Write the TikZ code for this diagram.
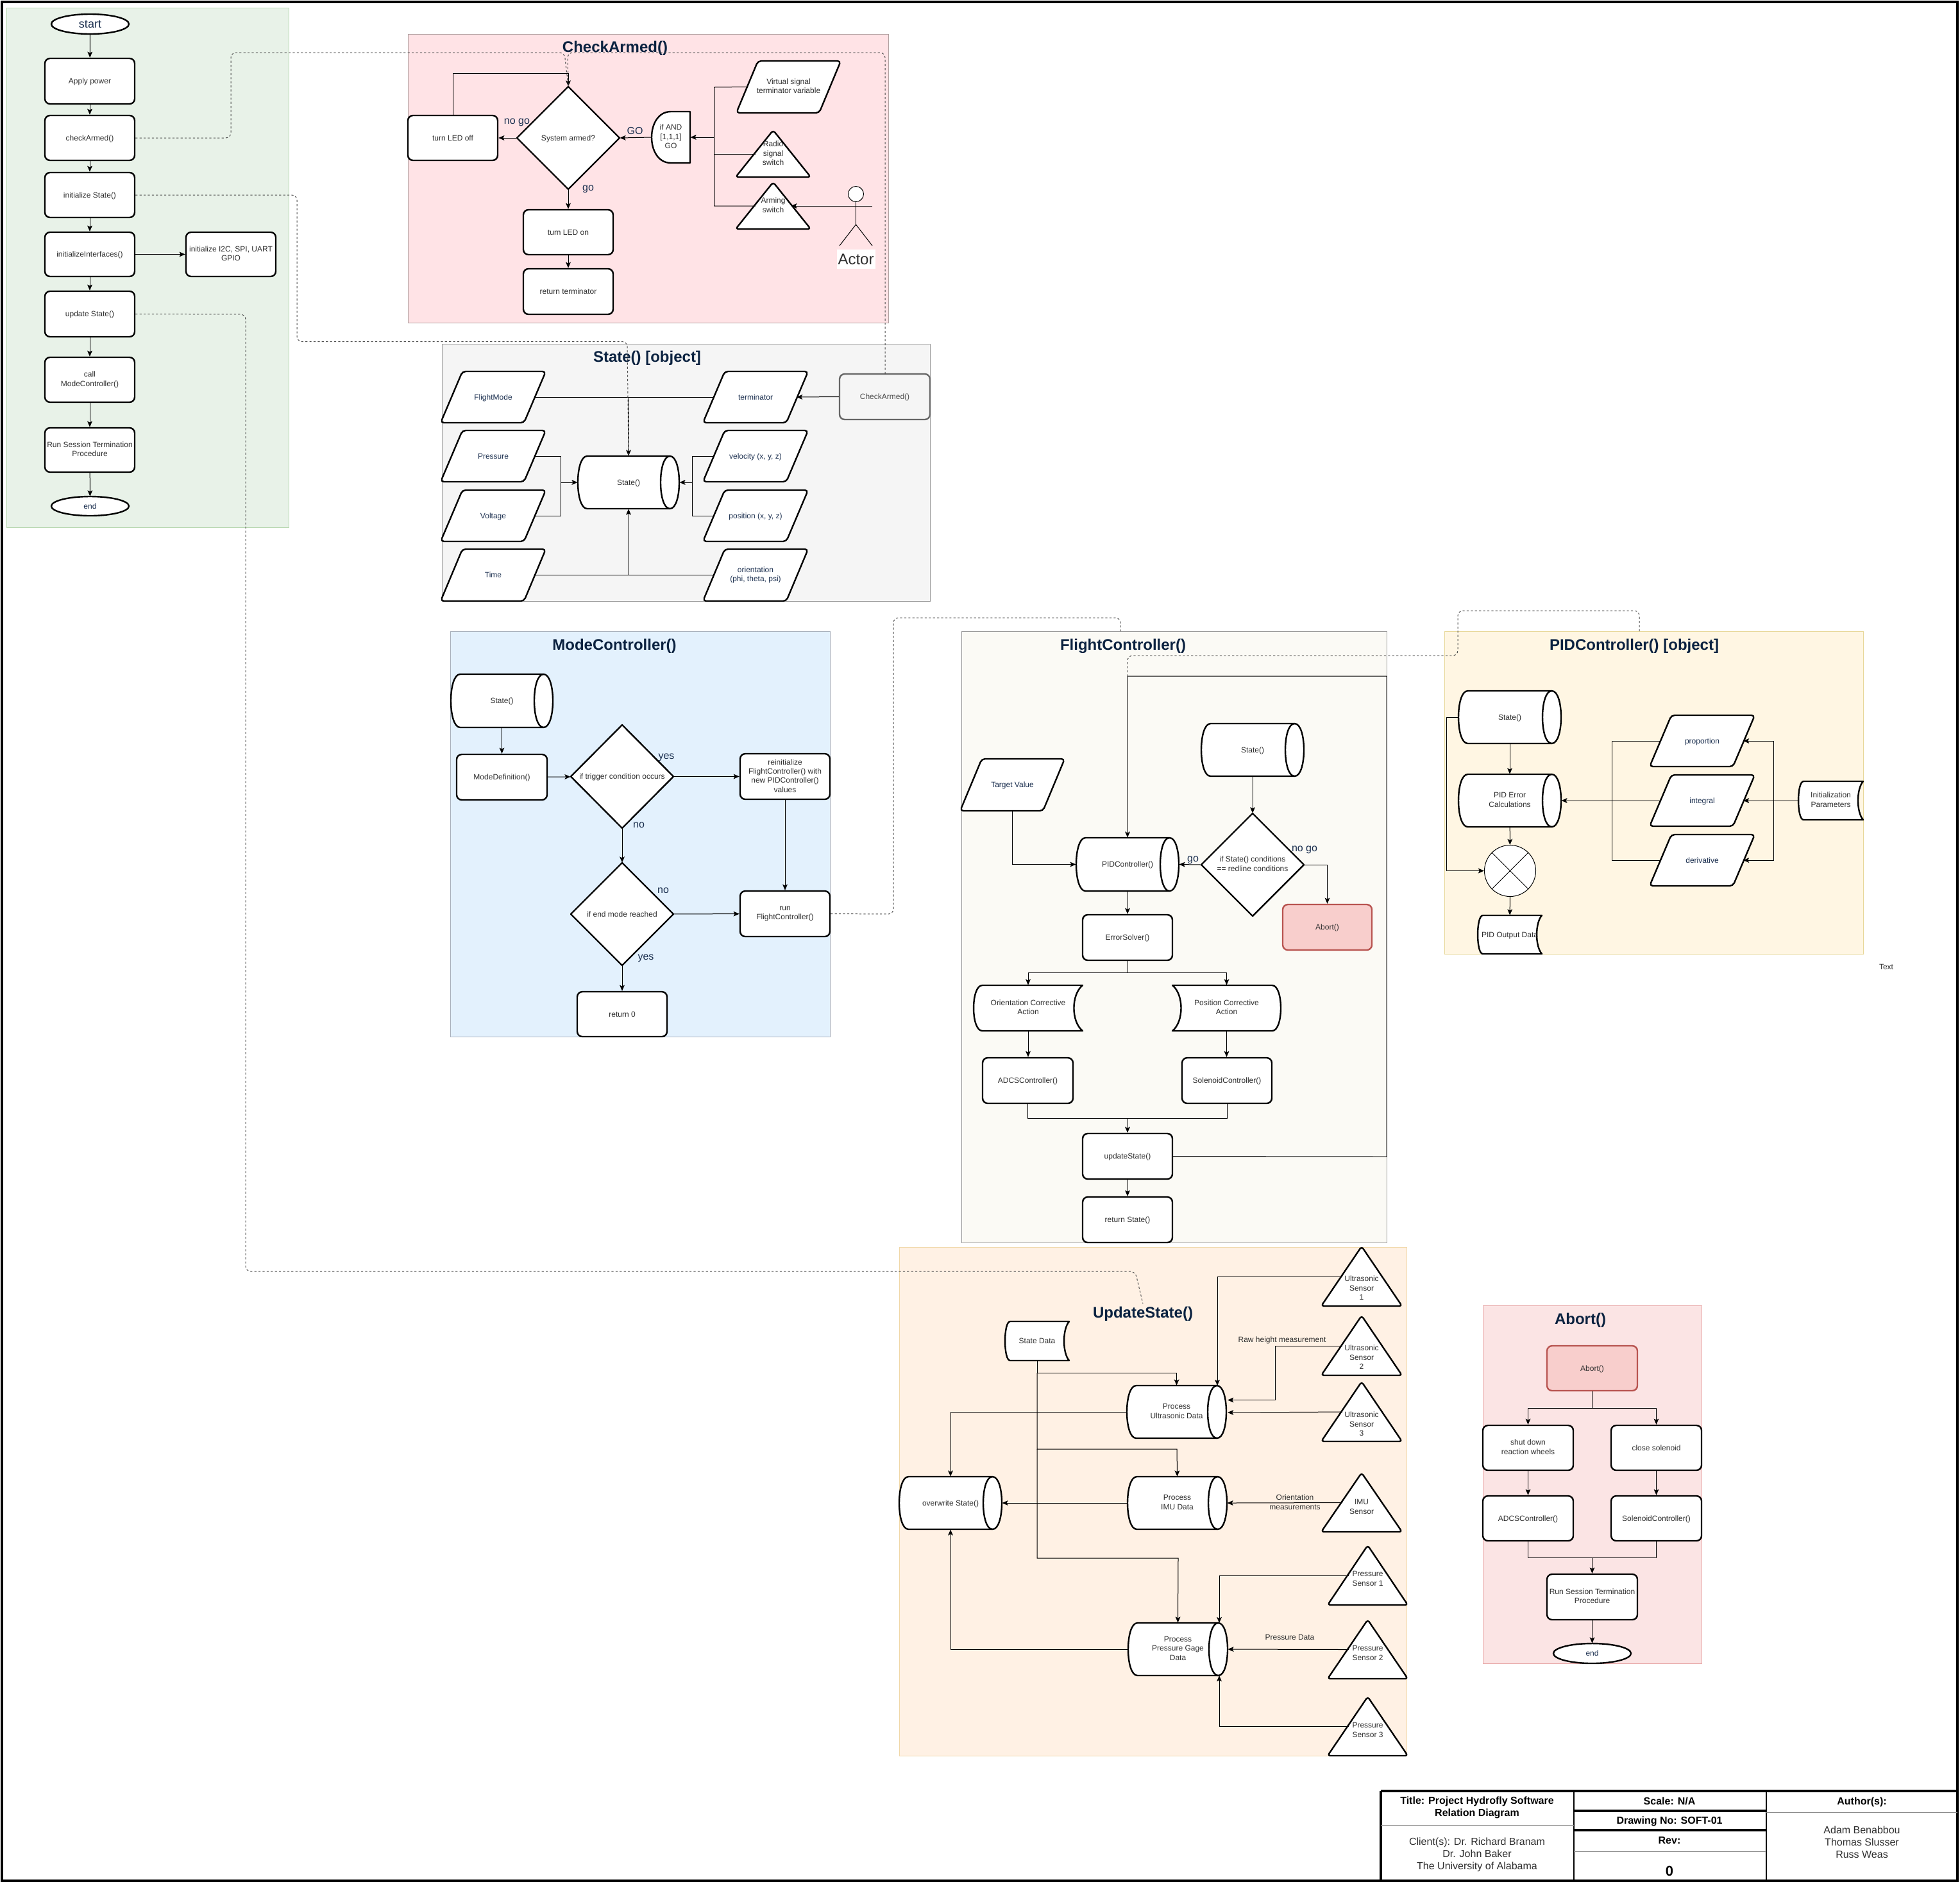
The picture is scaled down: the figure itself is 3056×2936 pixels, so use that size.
\documentclass[tikz,border=0pt]{standalone}
\usepackage{fontspec}
\setmainfont{Liberation Sans}
\usetikzlibrary{arrows.meta}
\definecolor{navy}{HTML}{1B2F4F}
\definecolor{ttlc}{HTML}{0B2240}
\definecolor{txtc}{HTML}{2E2E2E}
\definecolor{HTMLgreen}{HTML}{E8F2E8}
\definecolor{HTMLgreenS}{HTML}{B7D7B0}
\definecolor{HTMLpink}{HTML}{FFE3E6}
\definecolor{HTMLpinkS}{HTML}{B0A0A0}
\definecolor{HTMLgray}{HTML}{F5F5F5}
\definecolor{HTMLgrayS}{HTML}{999999}
\definecolor{HTMLblue}{HTML}{E3F1FD}
\definecolor{HTMLblueS}{HTML}{A8B0BC}
\definecolor{HTMLflight}{HTML}{FBFAF5}
\definecolor{HTMLflightS}{HTML}{999999}
\definecolor{HTMLpid}{HTML}{FFF6E3}
\definecolor{HTMLpidS}{HTML}{E8D89A}
\definecolor{HTMLupd}{HTML}{FFF1E4}
\definecolor{HTMLupdS}{HTML}{F0D8A8}
\definecolor{HTMLabt}{HTML}{FBE4E4}
\definecolor{HTMLabtS}{HTML}{E8A8A8}
\definecolor{HTMLabort}{HTML}{F8CECC}
\definecolor{HTMLabortS}{HTML}{B85450}
\tikzset{
  shp/.style={draw=black,line width=1.2pt,fill=white,line join=round},
  strutted/.style={execute at begin node={\rule{0pt}{0.905em}},execute at end node={\rule[-0.212em]{0pt}{0pt}}},
  lbl/.style={align=center,font=\fontsize{6}{7.15}\selectfont,inner sep=0pt,text=txtc,strutted},
  rbx/.style={draw=black,line width=1.2pt,fill=white,rounded corners=4pt},
  ttl/.style={font=\fontsize{12}{14}\selectfont\bfseries,text=ttlc,inner sep=0pt,strutted},
  big/.style={font=\fontsize{8}{9.6}\selectfont,text=navy,inner sep=0pt,align=center,strutted},
  hd/.style={font=\fontsize{8}{9.5}\selectfont\bfseries,text=black,inner sep=0pt,align=center,strutted},
  bd/.style={font=\fontsize{8}{9.5}\selectfont,text=txtc,inner sep=0pt,align=center,strutted},
  ln/.style={draw=black,line width=0.5pt},
  ar/.style={ln,-{Stealth[length=4.6pt,width=3.9pt,inset=1pt]}},
  dsh/.style={draw=black!70,line width=0.5pt,dash pattern=on 1.6pt off 1.6pt,rounded corners=4pt},
  rule/.style={draw=black!45,line width=0.5pt},
  hvy/.style={draw=black,line width=2.4pt},
  bg/.style={line width=0.5pt},
}
% label / anchor carrier: a rectangle spanning the bounding box
\newcommand{\lbox}[7][]{\node[lbl,minimum width={(#5-#3)*0.5pt},minimum height={(#6-#4)*0.5pt},#1] (#2) at ({(#3+#5)/2},{(#4+#6)/2}) {#7};}
\newcommand{\rb}[7][]{\lbox[rbx,#1]{#2}{#3}{#4}{#5}{#6}{#7}}
\newcommand{\term}[7][]{\draw[shp] ({(#3+#5)/2},{(#4+#6)/2}) ellipse[x radius={(#5-#3)/4*1pt},y radius={(#6-#4)/4*1pt}];\lbox[#1]{#2}{#3}{#4}{#5}{#6}{#7}}
\newcommand{\dia}[7][]{\draw[shp] ({(#3+#5)/2},#4) -- (#5,{(#4+#6)/2}) -- ({(#3+#5)/2},#6) -- (#3,{(#4+#6)/2}) -- cycle;\lbox[#1]{#2}{#3}{#4}{#5}{#6}{#7}}
\newcommand{\paral}[7][]{\pgfmathsetmacro\slnt{0.2*(#5-#3)}%
  \draw[shp,rounded corners=2.5pt] ({#3+\slnt},#4) -- ({#5+2},#4) -- ({#5-\slnt},#6) -- ({#3-2},#6) -- cycle;
  \lbox[#1]{#2}{#3}{#4}{#5}{#6}{#7}
  \coordinate (#2-w) at ({#3+\slnt/2},{(#4+#6)/2});
  \coordinate (#2-e) at ({#5-\slnt/2},{(#4+#6)/2});}
\newcommand{\cyln}[7][]{%
  \draw[shp] ({#3+14.5},#4) -- ({#5-14.5},#4) .. controls ({#5+4.83},#4) and ({#5+4.83},#6) .. ({#5-14.5},#6)
     -- ({#3+14.5},#6) .. controls ({#3-4.83},#6) and ({#3-4.83},#4) .. ({#3+14.5},#4) -- cycle;
  \draw[shp,fill=none] ({#5-14.5},#4) .. controls ({#5-33.83},#4) and ({#5-33.83},#6) .. ({#5-14.5},#6);
  \lbox[#1]{#2}{#3}{#4}{#5}{#6}{#7}}
\newcommand{\docu}[7][]{\pgfmathsetmacro\dd{0.08*(#5-#3)}%
  \draw[shp] ({#3+\dd},#4) -- (#5,#4) .. controls ({#5-1.33*\dd},{#4+0.2*(#6-#4)}) and ({#5-1.33*\dd},{#6-0.2*(#6-#4)}) .. (#5,#6)
     -- ({#3+\dd},#6) .. controls ({#3-0.33*\dd},#6) and ({#3-0.33*\dd},#4) .. ({#3+\dd},#4) -- cycle;
  \lbox[#1]{#2}{#3}{#4}{#5}{#6}{#7}}
\newcommand{\docm}[7][]{\pgfmathsetmacro\dd{0.08*(#5-#3)}%
  \draw[shp] ({#5-\dd},#4) -- (#3,#4) .. controls ({#3+1.33*\dd},{#4+0.2*(#6-#4)}) and ({#3+1.33*\dd},{#6-0.2*(#6-#4)}) .. (#3,#6)
     -- ({#5-\dd},#6) .. controls ({#5+0.33*\dd},#6) and ({#5+0.33*\dd},#4) .. ({#5-\dd},#4) -- cycle;
  \lbox[#1]{#2}{#3}{#4}{#5}{#6}{#7}}
\newcommand{\dlay}[7][]{\pgfmathsetmacro\hw{(#5-#3)/2}%
  \draw[shp] (#5,#4) -- ({#3+\hw},#4) .. controls ({#3-\hw/3},#4) and ({#3-\hw/3},#6) .. ({#3+\hw},#6) -- (#5,#6) -- cycle;
  \lbox[#1]{#2}{#3}{#4}{#5}{#6}{#7}}
\newcommand{\trian}[8][]{\pgfmathsetmacro\tw{(#5-#3)}%
  \draw[shp,rounded corners=2pt] ({(#3+#5)/2},{#4-1}) -- ({#5+3},#6) -- ({#3-3},#6) -- cycle;
  \node[lbl] (#2) at ({(#3+#5)/2},#7) {#8};
  \coordinate (#2-w) at ({(#3+#5)/2-\tw/4},{(#4+#6)/2});
  \coordinate (#2-e) at ({(#3+#5)/2+\tw/4},{(#4+#6)/2});}
\begin{document}
\begin{tikzpicture}[x=0.5pt,y=-0.5pt]
\useasboundingbox (0,0) rectangle (3056,2936);
\fill[white] (0,0) rectangle (3056,2936);
% ---------- panels
\draw[bg,fill=HTMLgreen,draw=HTMLgreenS] (10,12) rectangle (450,822);
\draw[bg,fill=HTMLpink,draw=HTMLpinkS] (636,53) rectangle (1385,503);
\draw[bg,fill=HTMLgray,draw=HTMLgrayS] (689,536) rectangle (1450,937);
\draw[bg,fill=HTMLblue,draw=HTMLblueS] (702,984) rectangle (1294,1616);
\draw[bg,fill=HTMLflight,draw=HTMLflightS] (1499,984) rectangle (2162,1937);
\draw[bg,fill=HTMLpid,draw=HTMLpidS] (2252,984) rectangle (2905,1487);
\draw[bg,fill=HTMLupd,draw=HTMLupdS] (1402,1944) rectangle (2193,2737);
\draw[bg,fill=HTMLabt,draw=HTMLabtS] (2312,2035) rectangle (2653,2593);
\node[ttl] (tCheck) at (959,73) {CheckArmed()};
\node[ttl] (tState) at (1009,556) {State() [object]};
\node[ttl] (tMode) at (958,1005) {ModeController()};
\node[ttl] (tFlight) at (1751,1005) {FlightController()};
\node[ttl] (tPid) at (2548,1005) {PIDController() [object]};
\node[ttl] (tUpd) at (1782,2046) {UpdateState()};
\node[ttl] (tAbort) at (2464,2056) {Abort()};
% ---------- main flow
\term[font=\fontsize{9}{11}\selectfont,text=navy]{start}{80}{22}{201}{53}{start}
\rb{apply}{70}{91}{210}{162}{Apply power}
\rb{checkA}{70}{180}{210}{250}{checkArmed()}
\rb{initS}{70}{269}{210}{339}{initialize State()}
\rb{initI}{70}{362}{210}{431}{initializeInterfaces()}
\rb{i2c}{290}{362}{430}{431}{initialize I2C, SPI, UART\\GPIO}
\rb{updS}{70}{454}{210}{525}{update State()}
\rb{callM}{70}{557}{210}{627}{call\\ModeController()}
\rb{runS}{70}{667}{210}{736}{Run Session Termination\\Procedure}
\term[text=navy]{endm}{80}{774}{201}{804}{end}
\draw[ar] (start) -- (apply);
\draw[ar] (apply) -- (checkA);
\draw[ar] (checkA) -- (initS);
\draw[ar] (initS) -- (initI);
\draw[ar] (initI) -- (updS);
\draw[ar] (initI) -- (i2c);
\draw[ar] (updS) -- (callM);
\draw[ar] (callM) -- (runS);
\draw[ar] (runS) -- (endm);
% ---------- CheckArmed
\dia{sysarm}{806}{135}{966}{295}{System armed?}
\rb{ledoff}{636}{180}{776}{250}{turn LED off}
\rb{ledon}{816}{327}{956}{397}{turn LED on}
\rb{retT}{816}{419}{956}{490}{return terminator}
\dlay{ifand}{1016}{174}{1076}{254}{if AND\\{[}1,1,1{]}\\GO}
\paral{virt}{1150}{95}{1309}{176}{Virtual signal\\terminator variable}
\trian{radio}{1150}{204}{1261}{276}{240}{Radio\\signal\\switch}
\trian{arming}{1150}{285}{1261}{357}{321}{Arming\\switch}
\node[circle,draw=black,line width=0.5pt,fill=white,minimum size=12pt,inner sep=0pt] (actor) at (1334.5,302.5) {};
\coordinate (actorR) at (1309,321);
\coordinate (actorL) at (1360,321);
\coordinate (actorH) at (1334.5,350);
\draw[ln] (actor.south) -- (actorH);
\draw[ln] (actorR) -- (actorL);
\draw[ln] (1309,383) -- (actorH) -- (1360,383);
\node[font=\fontsize{12}{14}\selectfont,text=txtc,fill=white,inner sep=1pt,strutted] (actorT) at (1334.5,404) {Actor};
\coordinate (bus) at (1113.5,214);
\draw[ln] (virt-w) -- (1113.5,136) -- (1113.5,321) -- (arming-w);
\draw[ln] (radio-w) -- (1113.5,240);
\draw[ar] (bus) -- (ifand.east);
\draw[ar] (actorR) -- (arming-e);
\draw[ar] (ifand.west) -- (sysarm.east);
\draw[ar] (sysarm.west) -- (ledoff.east);
\draw[ar] (ledoff.north) |- (886,114.5) -- (sysarm.north);
\draw[ar] (sysarm.south) -- (ledon.north);
\draw[ar] (ledon) -- (retT);
\node[big] (lNoGo) at (806,188) {no go};
\node[big] (lGO) at (990,204) {GO};
\node[big] (lgo) at (917,292) {go};
% ---------- State
\paral[text=navy]{flightm}{689}{579}{849}{659}{FlightMode}
\paral[text=navy]{press}{689}{671}{849}{751}{Pressure}
\paral[text=navy]{volt}{689}{764}{849}{844}{Voltage}
\paral[text=navy]{timeP}{689}{856}{849}{937}{Time}
\paral[text=navy]{termi}{1098}{579}{1258}{659}{terminator}
\paral[text=navy]{veloc}{1098}{671}{1258}{751}{velocity (x, y, z)}
\paral[text=navy]{posit}{1098}{764}{1258}{844}{position (x, y, z)}
\paral[text=navy]{orien}{1098}{856}{1258}{937}{orientation\\(phi, theta, psi)}
\cyln{stateO}{901}{711}{1059}{793}{State()}
\rb[draw=black!60,fill=HTMLgray,text=black!70]{checkO}{1309}{583}{1450}{654}{CheckArmed()}
\draw[ln] (flightm-e) -- (termi-w);
\draw[ar] (980,619) -- (stateO.north);
\draw[ln] (press-e) -| (874,752);
\draw[ln] (volt-e) -| (874,752);
\draw[ar] (874,752) -- (stateO.west);
\draw[ln] (veloc-w) -| (1079,752);
\draw[ln] (posit-w) -| (1079,752);
\draw[ar] (1079,752) -- (stateO.east);
\draw[ln] (timeP-e) -- (orien-w);
\draw[ar] (980,896.5) -- (stateO.south);
\draw[ar] (checkO.west) -- (termi-e);
% ---------- ModeController
\cyln{stateM}{703}{1051}{862}{1134}{State()}
\rb{modeD}{712}{1176}{853}{1247}{ModeDefinition()}
\dia{trig}{890}{1130}{1050}{1291}{if trigger condition occurs}
\rb{reinit}{1154}{1175}{1294}{1246}{reinitialize\\FlightController() with\\new PIDController()\\values}
\rb{runF}{1154}{1389}{1294}{1460}{run\\FlightController()}
\dia{endmode}{890}{1345}{1050}{1505}{if end mode reached}
\rb{ret0}{900}{1546}{1040}{1616}{return 0}
\draw[ar] (stateM.south) -- (modeD.north);
\draw[ar] (modeD) -- (trig);
\draw[ar] (trig) -- (reinit);
\draw[ar] (reinit) -- (runF);
\draw[ar] (trig) -- (endmode);
\draw[ar] (endmode) -- (runF);
\draw[ar] (endmode) -- (ret0);
\node[big] (lY1) at (1039,1178) {yes};
\node[big] (lN1) at (996,1285) {no};
\node[big] (lN2) at (1034,1387) {no};
\node[big] (lY2) at (1007,1491) {yes};
% ---------- FlightController
\paral[text=navy]{target}{1499}{1183}{1658}{1264}{Target Value}
\cyln{pidC}{1678}{1306}{1838}{1389}{PIDController()}
\cyln{stateF}{1873}{1128}{2033}{1210}{State()}
\dia{redl}{1873}{1268}{2033}{1428}{if State() conditions\\== redline conditions}
\rb[draw=HTMLabortS,fill=HTMLabort]{abortF}{2000}{1410}{2139}{1481}{Abort()}
\rb{errS}{1688}{1426}{1828}{1497}{ErrorSolver()}
\docu{orientA}{1518}{1536}{1688}{1607}{Orientation Corrective\\Action}
\docm{posA}{1828}{1536}{1997}{1607}{Position Corrective\\Action}
\rb{adcsF}{1532}{1649}{1673}{1720}{ADCSController()}
\rb{solF}{1843}{1649}{1983}{1720}{SolenoidController()}
\rb{updF}{1688}{1767}{1828}{1838}{updateState()}
\rb{retS}{1688}{1866}{1828}{1937}{return State()}
\coordinate (fBr) at (1758,1516);
\coordinate (fJn) at (1758,1743);
\coordinate (fLoop) at (1758,1054);
\draw[ar] (target.south) |- (pidC.west);
\draw[ar] (stateF) -- (redl);
\draw[ar] (redl.west) -- (pidC.east);
\draw[ar] (redl.east) -| (abortF.north);
\draw[ar] (pidC) -- (errS);
\draw[ln] (errS.south) -- (fBr);
\draw[ar] (fBr) -| (orientA.north);
\draw[ar] (fBr) -| (posA.north);
\draw[ar] (orientA.south) -- (orientA.south |- adcsF.north);
\draw[ar] (posA.south) -- (posA.south |- solF.north);
\draw[ln] (adcsF.south) |- (fJn);
\draw[ln] (solF.south) |- (fJn);
\draw[ar] (fJn) -- (updF.north);
\draw[ar] (updF) -- (retS);
\draw[ar] (updF.east) -- (2162,1803) -- (2162,1054) -- (fLoop) -- (pidC.north);
\node[big] (lGoF) at (1860,1338) {go};
\node[big] (lNoF) at (2034,1322) {no go};
% ---------- PID
\cyln{statP}{2274}{1077}{2434}{1159}{State()}
\cyln{pidE}{2274}{1207}{2434}{1289}{PID Error\\Calculations}
\node[circle,draw=black,line width=0.5pt,fill=white,minimum size=40pt,inner sep=0pt] (mix) at (2354.5,1357.5) {};
\draw[line width=0.4pt] (mix.north west) -- (mix.south east);
\draw[line width=0.4pt] (mix.north east) -- (mix.south west);
\docu{pidOut}{2304}{1427}{2404}{1487}{PID Output Data}
\paral[text=navy]{prop}{2574}{1115}{2734}{1195}{proportion}
\paral[text=navy]{integ}{2574}{1208}{2734}{1288}{integral}
\paral[text=navy]{deriv}{2574}{1301}{2734}{1381}{derivative}
\docu{initP}{2804}{1218}{2905}{1278}{Initialization\\Parameters}
\draw[ar] (statP) -- (pidE);
\draw[ar] (pidE) -- (mix);
\draw[ar] (mix) -- (pidOut);
\draw[ar] (statP.west) -- (2255,1118) |- (mix.west);
\draw[ar] (integ-w) -- (pidE.east);
\draw[ln] (prop-w) -- (2513,1155) |- (deriv-w);
\draw[ar] (initP.west) -- (integ-e);
\draw[ar] (2765,1248) |- (prop-e);
\draw[ar] (2765,1248) |- (deriv-e);
\node[lbl] (txtNote) at (2941,1507) {Text};
% ---------- UpdateState
\docu{stateD}{1567}{2060}{1667}{2121}{State Data}
\cyln{procU}{1757}{2160}{1912}{2242}{Process\\Ultrasonic Data}
\cyln{procI}{1758}{2302}{1913}{2384}{Process\\IMU Data}
\cyln{procP}{1759}{2530}{1914}{2612}{Process\\Pressure Gage\\Data}
\cyln{overW}{1402}{2302}{1562}{2384}{overwrite State()}
\trian{us1}{2063}{1944}{2183}{2036}{2009}{Ultrasonic\\Sensor\\1}
\trian{us2}{2063}{2052}{2183}{2144}{2117}{Ultrasonic\\Sensor\\2}
\trian{us3}{2063}{2155}{2183}{2247}{2221}{Ultrasonic\\Sensor\\3}
\trian{imu}{2063}{2297}{2183}{2388}{2350}{IMU\\Sensor}
\trian{ps1}{2073}{2410}{2192}{2502}{2462}{Pressure\\Sensor 1}
\trian{ps2}{2073}{2526}{2192}{2617}{2578}{Pressure\\Sensor 2}
\trian{ps3}{2073}{2646}{2192}{2737}{2698}{Pressure\\Sensor 3}
\coordinate (uTop) at (1898,2160);
\coordinate (pTop) at (1901,2530);
\coordinate (pBot) at (1901,2612);
\draw[ar] (us1-w) -| (uTop);
\draw[ar] (us2-w) -- (1988,2098) -- (1988,2182.5) -- (1914,2182.5);
\draw[ar] (us3-w) -- (1914,2202);
\draw[ar] (imu-w) -- (procI.east);
\draw[ar] (ps1-w) -| (pTop);
\draw[ar] (ps2-w) -- (procP.east);
\draw[ar] (ps3-w) -| (pBot);
\draw[ar] (stateD.south) -- (1617,2140) -| (procU.north);
\draw[ar] (1617,2140) |- (1835,2259) -- (procI.north);
\draw[ar] (1617,2259) |- (1837,2429) -- (procP.north);
\draw[ar] (procU.west) -| (overW.north);
\draw[ar] (procI.west) -- (overW.east);
\draw[ar] (procP.west) -| (overW.south);
\node[lbl] (lRaw) at (1999,2088) {Raw height measurement};
\node[lbl] (lOri) at (2019,2343) {Orientation\\measurements};
\node[lbl] (lPrs) at (2011,2552) {Pressure Data};
% ---------- Abort
\rb[draw=HTMLabortS,fill=HTMLabort]{abortA}{2412}{2098}{2553}{2168}{Abort()}
\rb{shut}{2312}{2222}{2453}{2292}{shut down\\reaction wheels}
\rb{closeS}{2512}{2222}{2653}{2292}{close solenoid}
\rb{adcsA}{2312}{2332}{2453}{2402}{ADCSController()}
\rb{solA}{2512}{2332}{2653}{2402}{SolenoidController()}
\rb{runA}{2412}{2454}{2553}{2525}{Run Session Termination\\Procedure}
\term[text=navy]{endA}{2422}{2562}{2543}{2593}{end}
\coordinate (aBr) at (2482.5,2195);
\coordinate (aJn) at (2482.5,2428);
\draw[ln] (abortA.south) -- (aBr);
\draw[ar] (aBr) -| (shut.north);
\draw[ar] (aBr) -| (closeS.north);
\draw[ar] (shut) -- (adcsA);
\draw[ar] (closeS) -- (solA);
\draw[ln] (adcsA.south) |- (aJn);
\draw[ln] (solA.south) |- (aJn);
\draw[ar] (aJn) -- (runA.north);
\draw[ar] (runA) -- (endA);
% ---------- dashed references
\coordinate (dashF) at (1747,984);
\coordinate (dashP) at (2556,984);
\coordinate (dashC) at (1380,583);
\draw[dsh] (checkA.east) -- (360,215) -- (360,82) -- (880,82) -- (sysarm.north);
\draw[dsh] (dashC) -- (1380,82) -- (885,82) -- (sysarm.north);
\draw[dsh] (initS.east) -- (463,304) -- (463,532.5) -- (978,532.5) -- (stateO.north);
\draw[dsh] (updS.east) -- (383,490) -- (383,1982) -- (1770,1982) -- (tUpd.north);
\draw[dsh] (runF.east) -- (1393,1425) -- (1393,963) -- (1747,963) -- (dashF);
\draw[dsh] (dashP) -- (2556,952) -- (2273,952) -- (2273,1022) -- (1758,1022) -- (fLoop);
% ---------- frame and title block
\draw[hvy] (3,3) rectangle (3052,2932);
\draw[hvy] (2153,2792) -- (3052,2792);
\draw[hvy] (2153,2792) -- (2153,2932);
\draw[line width=1.4pt] (2454,2792) -- (2454,2932);
\draw[line width=1.4pt] (2754,2792) -- (2754,2932);
\draw[line width=1.6pt] (2454,2823) -- (2754,2823);
\draw[line width=1.6pt] (2454,2853) -- (2754,2853);
\draw[rule] (2153,2845) -- (2454,2845);
\draw[rule] (2454,2886) -- (2754,2886);
\draw[rule] (2754,2825.5) -- (3052,2825.5);
\node[hd] (tb1) at (2303,2817.5) {Title: Project Hydrofly Software\\Relation Diagram};
\node[bd] (tb2) at (2303,2891) {Client(s): Dr. Richard Branam\\Dr. John Baker\\The University of Alabama};
\node[hd] (tb3) at (2603,2808) {Scale: N/A};
\node[hd] (tb4) at (2603,2838) {Drawing No: SOFT-01};
\node[hd] (tb5) at (2603,2869) {Rev:};
\node[hd,font=\fontsize{11}{13}\selectfont\bfseries] (tb6) at (2603,2917) {0};
\node[hd] (tb7) at (2903,2808) {Author(s):};
\node[bd] (tb8) at (2903,2873) {Adam Benabbou\\Thomas Slusser\\Russ Weas};
\end{tikzpicture}
\end{document}
